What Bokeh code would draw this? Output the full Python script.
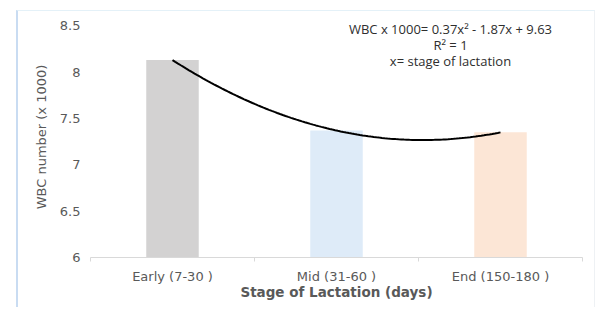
import numpy as np
from bokeh.plotting import figure
from bokeh.models import FixedTicker, CustomJSTickFormatter, Label, Range1d
from bokeh.embed import file_html
from bokeh.resources import INLINE

categories = ["Early (7-30 )", "Mid (31-60 )", "End (150-180 )"]
stage = [1, 2, 3]
wbc = [8.13, 7.37, 7.35]
bar_colors = ["#d3d2d2", "#deebf8", "#fce6d6"]
y_ticks = [6, 6.5, 7, 7.5, 8, 8.5]
eq_lines = ["WBC x 1000= 0.37x\u00b2 - 1.87x + 9.63", "R\u00b2 = 1", "x= stage of lactation"]

p = figure(width=579, height=297, output_backend="svg", toolbar_location=None,
           x_range=Range1d(0.5, 3.5), y_range=Range1d(6, 8.6),
           min_border_left=72, min_border_right=15, min_border_top=5, min_border_bottom=51,
           margin=(10, 0, 0, 16))
p.styles = {"border-left": "2px solid #c9dcf2", "border-top": "1px solid #e4f1f8",
            "border-right": "1px solid #eef1f4"}
p.outline_line_color = None
p.xgrid.grid_line_color = None
p.ygrid.grid_line_color = None

p.vbar(x=stage, top=wbc, bottom=6, width=0.32, color=bar_colors, line_color=None)

coef = np.polyfit(stage, wbc, 2)
xs = np.linspace(stage[0], stage[-1], 120)
p.line(xs, np.polyval(coef, xs), line_color="black", line_width=2)

font = "DejaVu Sans"
grey = "#595959"

xa = p.xaxis[0]
xa.ticker = FixedTicker(ticks=stage, minor_ticks=[0.5, 1.5, 2.5, 3.5])
xa.formatter = CustomJSTickFormatter(args=dict(labels=categories),
                                     code="return labels[Math.round(tick) - 1];")
xa.axis_line_color = "#d9d9d9"
xa.major_tick_line_color = None
xa.major_tick_out = 0
xa.major_tick_in = 0
xa.minor_tick_line_color = "#d9d9d9"
xa.minor_tick_out = 4
xa.minor_tick_in = 0
xa.major_label_standoff = 7
xa.major_label_text_font = font
xa.major_label_text_font_size = "13px"
xa.major_label_text_color = grey
xa.axis_label = "Stage of Lactation (days)"
xa.axis_label_text_font = font
xa.axis_label_text_font_size = "13.5px"
xa.axis_label_text_font_style = "bold"
xa.axis_label_text_color = grey
xa.axis_label_standoff = -3

ya = p.yaxis[0]
ya.ticker = FixedTicker(ticks=y_ticks)
ya.formatter = CustomJSTickFormatter(code="return tick.toString();")
ya.axis_line_color = None
ya.major_tick_line_color = None
ya.minor_tick_line_color = None
ya.major_tick_out = 0
ya.major_tick_in = 0
ya.major_label_standoff = 10
ya.major_label_text_font = font
ya.major_label_text_font_size = "13px"
ya.major_label_text_color = grey
ya.axis_label = "WBC number (x 1000)"
ya.axis_label_text_font = font
ya.axis_label_text_font_size = "13px"
ya.axis_label_text_font_style = "normal"
ya.axis_label_text_color = grey
ya.axis_label_standoff = 8

for txt, yv in zip(eq_lines, [8.468, 8.295, 8.123]):
    p.add_layout(Label(x=2.695, y=yv, text=txt, text_align="center", text_baseline="middle",
                       text_font="Open Sans", text_font_size="13px", text_font_style="normal",
                       text_color="#2e2e2e"))

open("out.html", "w").write(file_html(p, INLINE))
